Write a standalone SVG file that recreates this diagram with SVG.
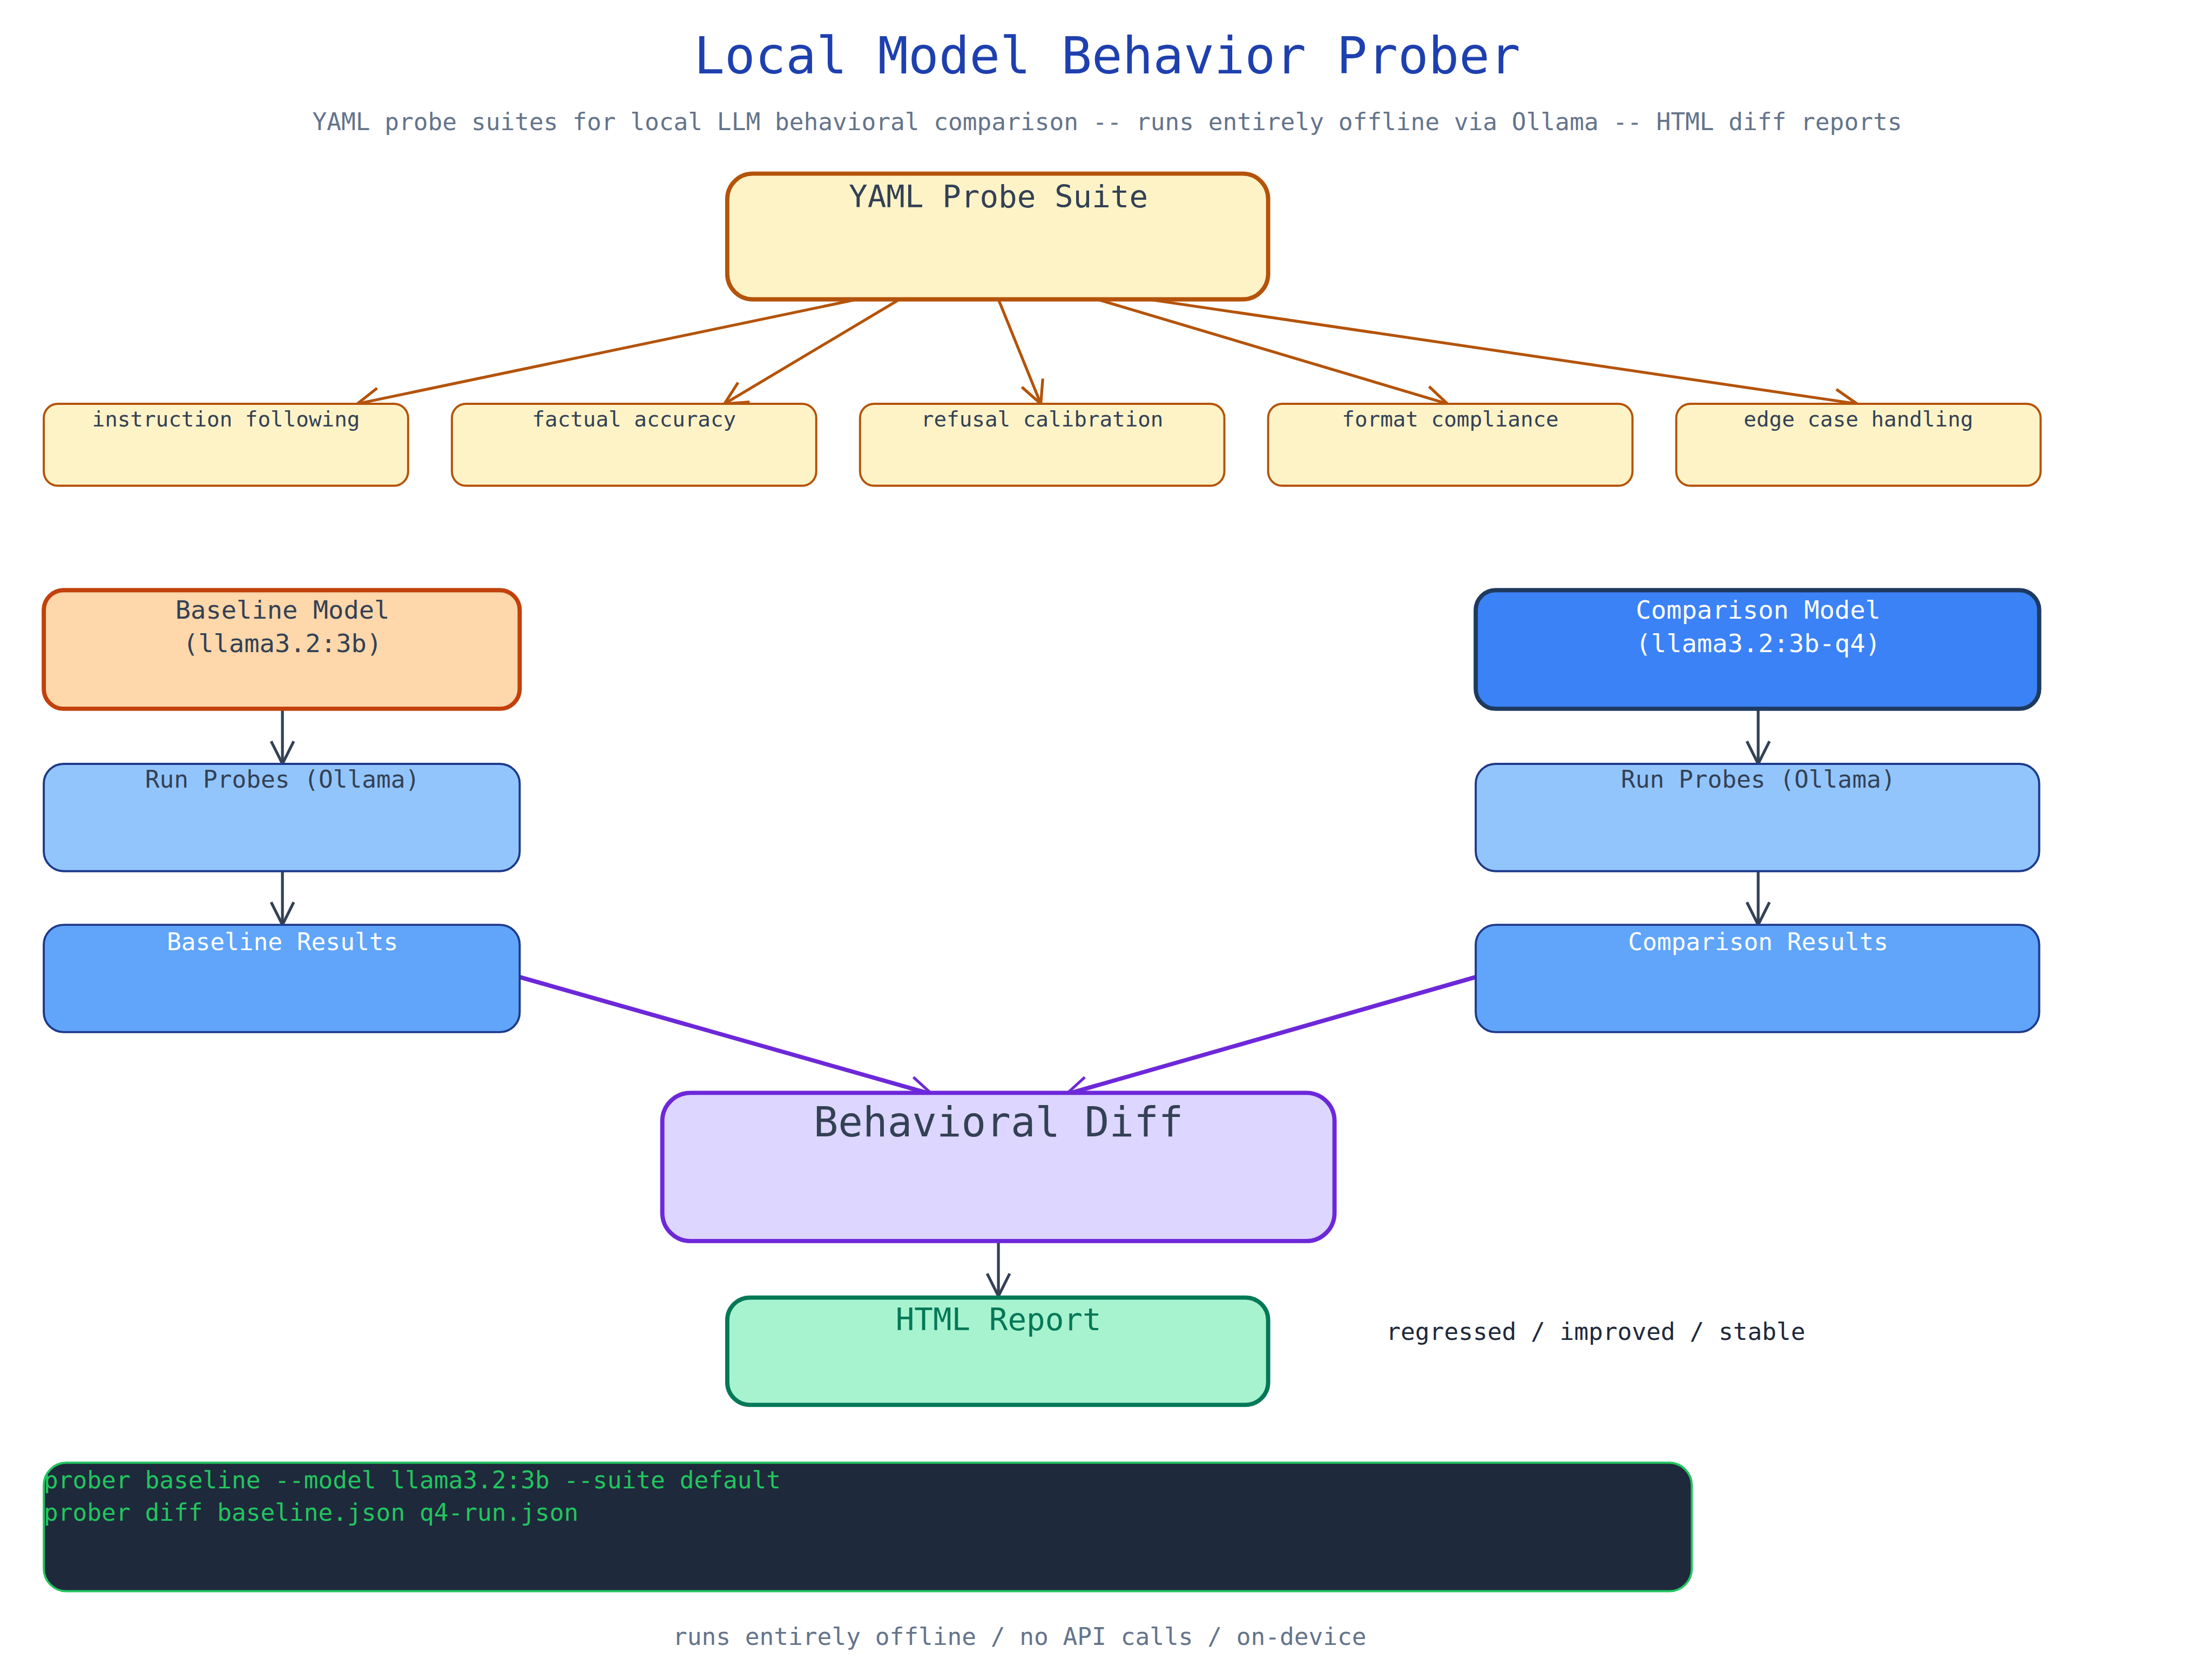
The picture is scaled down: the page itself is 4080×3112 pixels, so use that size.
<svg xmlns="http://www.w3.org/2000/svg" width="4080" height="3112" viewBox="0 0 4080 3112">
<defs>
<marker id="ao" viewBox="0 0 20 20" refX="18" refY="10" markerWidth="20" markerHeight="20" markerUnits="userSpaceOnUse" orient="auto"><path d="M2 2 L18 10 L2 18" fill="none" stroke="#b45309" stroke-width="2"/></marker>
<marker id="ad" viewBox="0 0 20 20" refX="18" refY="10" markerWidth="20" markerHeight="20" markerUnits="userSpaceOnUse" orient="auto"><path d="M2 2 L18 10 L2 18" fill="none" stroke="#334155" stroke-width="2"/></marker>
<marker id="ap" viewBox="0 0 20 20" refX="18" refY="10" markerWidth="20" markerHeight="20" markerUnits="userSpaceOnUse" orient="auto"><path d="M2 2 L18 10 L2 18" fill="none" stroke="#6d28d9" stroke-width="2"/></marker>
</defs>
<style>
text{font-family:"DejaVu Sans Mono","Liberation Mono",monospace;text-anchor:middle;fill:#334155}
.cat rect{fill:#fef3c7;stroke:#b45309;stroke-width:1.5}
.cat text{font-size:15px}
.run rect{fill:#93c5fd;stroke:#1e3a8a;stroke-width:1.5}
.res rect{fill:#60a5fa;stroke:#1e3a8a;stroke-width:1.5}
.res text{fill:#fff}
.run text,.res text{font-size:17px}
.o{stroke:#b45309;stroke-width:2;fill:none;marker-end:url(#ao)}
.d{stroke:#334155;stroke-width:2;fill:none;marker-end:url(#ad)}
.p{stroke:#6d28d9;stroke-width:3;fill:none;marker-end:url(#ap)}
</style>
<rect width="4080" height="3112" fill="#fff"/>
<g transform="scale(2.6154)">
<text x="784" y="52" style="font-size:36px;fill:#1e40af">Local Model Behavior Prober</text>
<text x="784" y="92" style="font-size:17px;fill:#64748b">YAML probe suites for local LLM behavioral comparison -- runs entirely offline via Ollama -- HTML diff reports</text>

<g id="connectors">
<line class="o" x1="607" y1="212" x2="253" y2="286"/>
<line class="o" x1="637" y1="212" x2="513" y2="286"/>
<line class="o" x1="707" y1="212" x2="737" y2="286"/>
<line class="o" x1="777" y1="212" x2="1025" y2="286"/>
<line class="o" x1="813" y1="212" x2="1315" y2="286"/>
<line class="d" x1="200" y1="502" x2="200" y2="541"/>
<line class="d" x1="200" y1="617" x2="200" y2="655"/>
<line class="d" x1="1245" y1="502" x2="1245" y2="541"/>
<line class="d" x1="1245" y1="617" x2="1245" y2="655"/>
<line class="p" x1="368" y1="692" x2="660" y2="775"/>
<line class="p" x1="1045" y1="692" x2="755" y2="775"/>
<line class="d" x1="707" y1="879" x2="707" y2="918"/>
</g>

<g id="suite"><rect x="515" y="123" width="383" height="89" rx="18" fill="#fef3c7" stroke="#b45309" stroke-width="3"/><text x="707" y="147" style="font-size:22px">YAML Probe Suite</text></g>
<g id="cat1" class="cat"><rect x="31" y="286" width="258" height="58" rx="10"/><text x="160" y="302">instruction following</text></g>
<g id="cat2" class="cat"><rect x="320" y="286" width="258" height="58" rx="10"/><text x="449" y="302">factual accuracy</text></g>
<g id="cat3" class="cat"><rect x="609" y="286" width="258" height="58" rx="10"/><text x="738" y="302">refusal calibration</text></g>
<g id="cat4" class="cat"><rect x="898" y="286" width="258" height="58" rx="10"/><text x="1027" y="302">format compliance</text></g>
<g id="cat5" class="cat"><rect x="1187" y="286" width="258" height="58" rx="10"/><text x="1316" y="302">edge case handling</text></g>

<g id="baseline"><rect x="31" y="418" width="337" height="84" rx="14" fill="#fed7aa" stroke="#c2410c" stroke-width="3"/><text x="200" y="438" style="font-size:18px">Baseline Model</text><text x="200" y="462" style="font-size:18px">(llama3.2:3b)</text></g>
<g id="comparison"><rect x="1045" y="418" width="399" height="84" rx="14" fill="#3b82f6" stroke="#1e3a5f" stroke-width="3"/><text x="1245" y="438" style="font-size:18px;fill:#fff">Comparison Model</text><text x="1245" y="462" style="font-size:18px;fill:#fff">(llama3.2:3b-q4)</text></g>
<g id="run1" class="run"><rect x="31" y="541" width="337" height="76" rx="14"/><text x="200" y="558">Run Probes (Ollama)</text></g>
<g id="run2" class="run"><rect x="1045" y="541" width="399" height="76" rx="14"/><text x="1245" y="558">Run Probes (Ollama)</text></g>
<g id="res1" class="res"><rect x="31" y="655" width="337" height="76" rx="14"/><text x="200" y="673">Baseline Results</text></g>
<g id="res2" class="res"><rect x="1045" y="655" width="399" height="76" rx="14"/><text x="1245" y="673">Comparison Results</text></g>

<g id="diff"><rect x="469" y="774" width="476" height="105" rx="20" fill="#ddd6fe" stroke="#6d28d9" stroke-width="3"/><text x="707" y="805" style="font-size:29px">Behavioral Diff</text></g>
<g id="report"><rect x="515" y="919" width="383" height="76" rx="16" fill="#a7f3d0" stroke="#047857" stroke-width="3"/><text x="707" y="942" style="font-size:22px;fill:#047857">HTML Report</text></g>
<text x="1130" y="949" style="font-size:17px;fill:#1e293b">regressed  /  improved  /  stable</text>

<g id="terminal"><rect x="31" y="1036" width="1167" height="91" rx="16" fill="#1e293b" stroke="#22c55e" stroke-width="1.5"/>
<text x="31" y="1054" style="font-size:17px;fill:#22c55e;text-anchor:start">prober baseline --model llama3.2:3b --suite default</text>
<text x="31" y="1077" style="font-size:17px;fill:#22c55e;text-anchor:start">prober diff baseline.json q4-run.json</text></g>
<text x="722" y="1165" style="font-size:17px;fill:#64748b">runs entirely offline  /  no API calls  /  on-device</text>
</g>
</svg>
